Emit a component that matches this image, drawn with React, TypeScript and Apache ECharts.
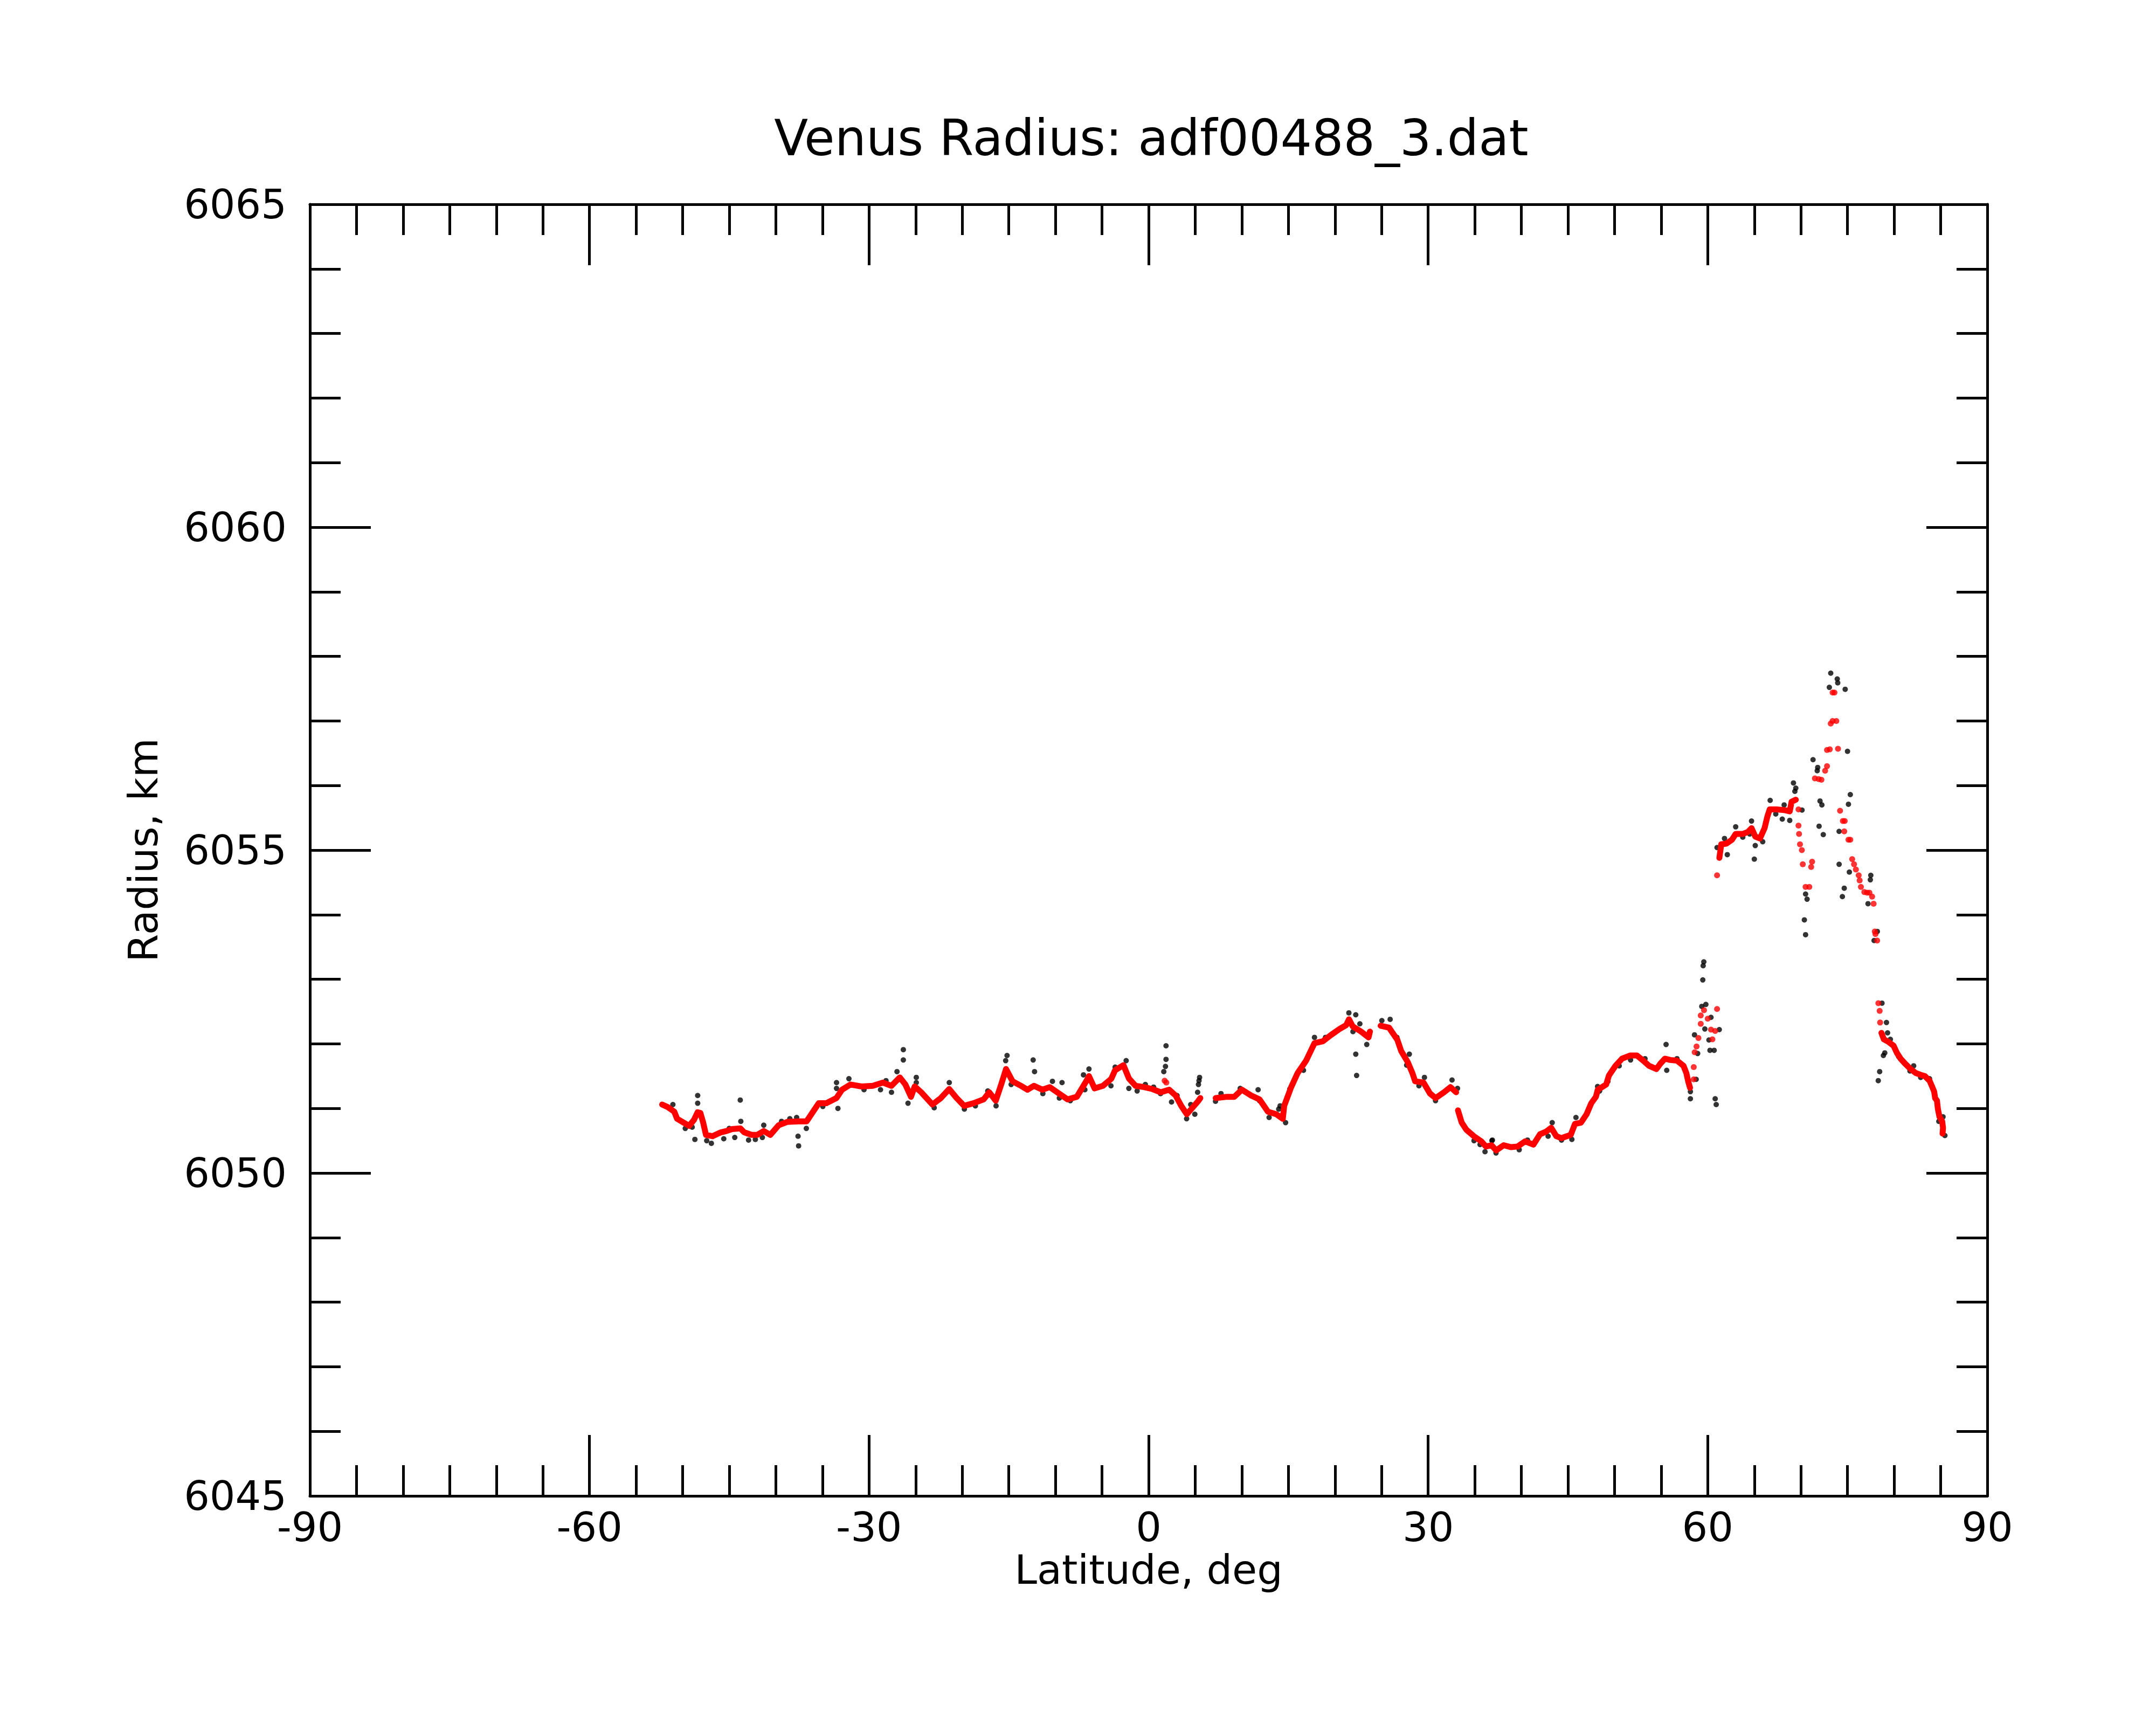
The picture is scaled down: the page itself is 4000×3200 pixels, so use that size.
import React, { useEffect, useRef } from "react";
import * as echarts from "echarts";

const titleText = "Venus Radius: adf00488_3.dat";
const xName = "Latitude, deg";
const yName = "Radius, km";
const xTicks = [-90, -60, -30, 0, 30, 60, 90];
const yTicks = [6045, 6050, 6055, 6060, 6065];

// raw measurements (black)
const blackPts: [number, number][] = [
  [-51.05, 6051.06], [-49.72, 6050.69], [-48.98, 6050.71], [-48.69, 6050.52], [-48.39, 6051.2],
  [-48.39, 6051.08], [-47.42, 6050.5], [-46.92, 6050.46], [-45.59, 6050.53], [-45.0, 6050.69],
  [-44.41, 6050.55], [-43.82, 6051.13], [-43.76, 6050.8], [-42.93, 6050.51], [-42.2, 6050.52],
  [-41.3, 6050.74], [-41.45, 6050.55], [-39.39, 6050.8], [-38.5, 6050.84], [-37.77, 6050.86],
  [-37.62, 6050.57], [-37.56, 6050.42], [-36.73, 6050.69], [-34.96, 6051.03], [-33.49, 6051.4],
  [-33.49, 6051.31], [-33.34, 6051.0], [-32.16, 6051.46], [-30.54, 6051.29], [-28.77, 6051.29],
  [-28.18, 6051.43], [-27.59, 6051.25], [-27.0, 6051.57], [-26.32, 6051.75], [-26.32, 6051.91],
  [-25.82, 6051.08], [-24.93, 6051.48], [-24.93, 6051.4], [-23.01, 6051.01], [-21.39, 6051.4],
  [-19.77, 6050.99], [-18.59, 6051.04], [-17.26, 6051.27], [-16.37, 6051.04], [-15.34, 6051.74],
  [-15.19, 6051.82], [-14.75, 6051.37], [-12.98, 6051.29], [-12.39, 6051.75], [-12.24, 6051.57],
  [-11.35, 6051.23], [-10.32, 6051.42], [-9.29, 6051.4], [-9.58, 6051.16], [-8.4, 6051.12],
  [-6.99, 6051.52], [-6.4, 6051.61], [-6.84, 6051.29], [-4.04, 6051.35], [-3.59, 6051.64],
  [-2.41, 6051.74], [-2.12, 6051.31], [-1.23, 6051.27], [-0.35, 6051.37], [0.54, 6051.33],
  [1.28, 6051.23], [1.63, 6051.57], [1.81, 6051.65], [1.87, 6051.76], [1.87, 6051.97],
  [2.46, 6051.1], [3.05, 6051.2], [4.08, 6050.84], [4.96, 6050.91], [4.52, 6051.06],
  [5.26, 6051.25], [5.35, 6051.37], [5.41, 6051.43], [5.47, 6051.48], [7.18, 6051.11],
  [7.77, 6051.23], [9.83, 6051.31], [11.75, 6051.29], [11.9, 6051.12], [12.93, 6050.86],
  [13.96, 6050.99], [14.11, 6051.04], [14.7, 6050.78], [15.15, 6051.3], [16.62, 6051.59],
  [17.8, 6052.1], [18.98, 6052.1], [21.49, 6052.48], [22.23, 6052.45], [22.23, 6051.84],
  [22.32, 6051.51], [21.93, 6052.19], [22.67, 6052.31], [23.41, 6051.99], [25.03, 6052.36],
  [25.92, 6052.38], [26.65, 6052.1], [27.69, 6051.67], [27.98, 6051.84], [29.6, 6051.48],
  [29.01, 6051.35], [30.79, 6051.12], [32.56, 6051.44], [33.15, 6051.31], [34.92, 6050.5],
  [35.57, 6050.44], [36.1, 6050.33], [36.84, 6050.5], [37.28, 6050.31], [36.89, 6050.51],
  [39.77, 6050.36], [40.66, 6050.51], [42.87, 6050.57], [43.31, 6050.78], [44.31, 6050.51],
  [45.42, 6050.52], [45.86, 6050.86], [48.18, 6051.34], [48.4, 6051.27], [49.29, 6051.42],
  [50.5, 6051.66], [51.72, 6051.75], [53.27, 6051.77], [55.53, 6051.99], [55.6, 6051.59],
  [56.7, 6051.77], [57.5, 6051.61], [58.14, 6051.26], [58.14, 6051.15], [58.76, 6051.45],
  [58.58, 6052.14], [58.92, 6051.85], [59.58, 6053.27], [59.51, 6053.21], [59.47, 6052.99],
  [59.36, 6052.58], [59.8, 6052.61], [60.35, 6052.41], [61.24, 6052.22], [59.69, 6052.23],
  [60.13, 6052.06], [60.24, 6051.9], [60.69, 6051.9], [60.8, 6051.15], [60.91, 6051.06],
  [61.0, 6055.04], [61.8, 6055.18], [62.1, 6054.93], [63.0, 6055.36], [63.76, 6055.2],
  [64.5, 6055.25], [64.7, 6055.45], [65.0, 6054.86], [65.1, 6055.07], [65.9, 6055.13],
  [66.7, 6055.77], [67.3, 6055.56], [68.0, 6055.48], [68.2, 6055.7], [68.8, 6055.46],
  [69.2, 6056.04], [69.45, 6055.96], [69.35, 6055.91], [70.12, 6055.62], [70.5, 6054.32],
  [70.66, 6054.24], [71.3, 6056.4], [71.8, 6056.28], [71.75, 6056.23], [72.05, 6055.76],
  [72.25, 6055.7], [71.95, 6055.37], [72.4, 6055.24], [73.05, 6057.52], [73.2, 6057.74],
  [73.9, 6057.65], [73.95, 6057.59], [74.75, 6057.49], [75.0, 6056.53], [75.3, 6055.86],
  [75.1, 6055.71], [74.1, 6055.29], [74.1, 6054.78], [74.65, 6054.41], [74.45, 6054.28],
  [75.2, 6054.66], [77.5, 6054.61], [77.45, 6054.54], [77.2, 6054.17], [70.37, 6053.92],
  [70.5, 6053.69], [78.2, 6053.74], [77.85, 6053.6], [78.7, 6052.63], [79.18, 6052.33],
  [79.3, 6052.17], [79.0, 6051.86], [78.85, 6051.82], [78.45, 6051.57], [78.3, 6051.43],
  [79.6, 6052.07], [80.5, 6051.8], [81.7, 6051.58], [82.1, 6051.66], [82.85, 6051.48],
  [83.8, 6051.46], [85.25, 6050.87], [84.8, 6050.8], [85.45, 6050.58],
];

// smoothed radius (red), continuous stretches
const redSegA: [number, number][] = [
  [-52.2, 6051.06], [-51.6, 6051.02], [-50.9, 6050.95], [-50.6, 6050.84], [-49.9, 6050.78],
  [-49.3, 6050.73], [-48.8, 6050.82], [-48.4, 6050.94], [-48.1, 6050.93], [-47.8, 6050.78],
  [-47.5, 6050.59], [-46.8, 6050.57], [-45.9, 6050.63], [-45.3, 6050.65], [-44.7, 6050.68],
  [-43.8, 6050.69], [-43.4, 6050.63], [-42.6, 6050.59], [-42.0, 6050.59], [-41.3, 6050.65],
  [-40.6, 6050.59], [-39.7, 6050.74], [-38.8, 6050.79], [-37.6, 6050.8], [-36.7, 6050.8],
  [-36.1, 6050.93], [-35.4, 6051.08], [-34.6, 6051.08], [-33.5, 6051.16], [-32.9, 6051.29],
  [-32.0, 6051.37], [-30.8, 6051.34], [-29.6, 6051.35], [-28.5, 6051.4], [-27.6, 6051.35],
  [-26.7, 6051.48], [-26.1, 6051.37], [-25.5, 6051.18], [-25.1, 6051.34], [-24.4, 6051.25],
  [-23.2, 6051.06], [-22.3, 6051.16], [-21.4, 6051.3], [-20.6, 6051.16], [-19.8, 6051.04],
  [-18.8, 6051.08], [-17.7, 6051.14], [-17.1, 6051.25], [-16.4, 6051.12], [-15.8, 6051.38],
  [-15.3, 6051.61], [-14.6, 6051.42], [-13.7, 6051.35], [-13.0, 6051.29], [-12.3, 6051.35],
  [-11.4, 6051.29], [-10.6, 6051.33], [-9.6, 6051.23], [-8.7, 6051.14], [-7.7, 6051.18],
  [-6.7, 6051.42], [-6.4, 6051.5], [-5.8, 6051.31], [-4.9, 6051.35], [-4.0, 6051.46],
  [-3.6, 6051.59], [-2.7, 6051.67], [-2.1, 6051.46], [-1.4, 6051.35], [-0.5, 6051.33],
  [0.4, 6051.3], [1.3, 6051.25], [2.2, 6051.29], [2.9, 6051.2], [3.5, 6051.04],
  [4.1, 6050.91], [4.7, 6051.01], [5.3, 6051.11], [5.55, 6051.16],
];
const redSegB: [number, number][] = [
  [7.2, 6051.16], [8.4, 6051.18], [9.2, 6051.18], [10.0, 6051.29], [11.0, 6051.2],
  [11.9, 6051.14], [12.8, 6050.95], [13.7, 6050.91], [14.4, 6050.84], [14.55, 6051.04],
  [15.3, 6051.33], [16.0, 6051.55], [16.9, 6051.74], [17.8, 6052.01], [18.7, 6052.04],
  [19.6, 6052.14], [20.5, 6052.23], [21.2, 6052.29], [21.5, 6052.38], [21.9, 6052.27],
  [22.8, 6052.19], [23.6, 6052.1], [23.75, 6052.19],
];
const redSegC: [number, number][] = [
  [24.9, 6052.28], [25.8, 6052.25], [26.7, 6052.06], [27.1, 6051.89], [27.8, 6051.72],
  [28.3, 6051.55], [28.6, 6051.42], [29.5, 6051.4], [30.2, 6051.23], [30.8, 6051.16],
  [31.7, 6051.25], [32.4, 6051.33], [33.0, 6051.25],
];
const redSegD: [number, number][] = [
  [33.2, 6050.97], [33.6, 6050.78], [34.1, 6050.67], [34.9, 6050.57], [35.7, 6050.49],
  [36.2, 6050.41], [36.8, 6050.43], [37.3, 6050.35], [38.1, 6050.43], [38.9, 6050.4],
  [39.6, 6050.41], [40.4, 6050.49], [41.3, 6050.44], [42.0, 6050.6], [42.65, 6050.64],
  [43.2, 6050.7], [43.75, 6050.57], [44.3, 6050.54], [45.3, 6050.59], [45.75, 6050.76],
  [46.4, 6050.78], [47.0, 6050.91], [47.5, 6051.08], [48.0, 6051.18], [48.2, 6051.29],
  [49.1, 6051.37], [49.4, 6051.51], [50.1, 6051.66], [50.8, 6051.77], [51.7, 6051.82],
  [52.4, 6051.82], [53.0, 6051.75], [53.7, 6051.66], [54.5, 6051.61], [54.9, 6051.69],
  [55.4, 6051.77], [56.0, 6051.75], [56.7, 6051.74], [57.4, 6051.66], [57.7, 6051.55],
  [57.9, 6051.42], [58.1, 6051.32],
];
const redSegF: [number, number][] = [
  [61.25, 6054.88], [61.45, 6055.09], [62.0, 6055.1], [62.6, 6055.16], [63.0, 6055.25],
  [63.76, 6055.25], [64.3, 6055.28], [64.7, 6055.34], [65.1, 6055.21], [65.6, 6055.18],
  [66.1, 6055.34], [66.4, 6055.52], [66.65, 6055.63], [67.4, 6055.63], [68.2, 6055.62],
  [68.8, 6055.6], [69.0, 6055.75], [69.45, 6055.78],
];
const redSegE: [number, number][] = [
  [78.64, 6052.17], [78.9, 6052.07], [79.4, 6052.03], [79.95, 6051.97], [80.3, 6051.86],
  [80.7, 6051.77], [81.2, 6051.69], [81.7, 6051.62], [82.3, 6051.55], [82.85, 6051.52],
  [83.3, 6051.5], [83.8, 6051.43], [84.1, 6051.33], [84.3, 6051.26], [84.4, 6051.16],
  [84.6, 6051.12], [84.7, 6050.99], [84.87, 6050.87], [85.16, 6050.8], [85.25, 6050.7],
  [85.2, 6050.61],
];
// smoothed radius (red), isolated points
const redDots: [number, number][] = [
  [1.72, 6051.43], [1.9, 6051.4],
  [58.5, 6051.45], [58.5, 6051.64], [58.6, 6051.87], [58.8, 6051.96], [59.0, 6052.09],
  [59.25, 6052.31], [59.25, 6052.44], [59.6, 6052.52], [60.0, 6052.39], [60.35, 6052.22],
  [60.8, 6052.2], [60.5, 6052.07], [61.0, 6052.54], [61.0, 6054.61],
  [69.74, 6055.63], [69.74, 6055.38], [69.8, 6055.25], [69.9, 6055.09], [70.1, 6055.0],
  [70.2, 6054.78], [70.5, 6054.43], [70.9, 6054.43], [71.1, 6054.74], [71.2, 6054.82],
  [71.5, 6056.11], [71.9, 6056.1], [72.2, 6056.09], [72.6, 6056.23], [72.8, 6056.3],
  [72.8, 6056.55], [73.1, 6056.56], [73.98, 6056.57], [73.2, 6056.96], [73.4, 6057.0],
  [73.8, 6057.0], [73.4, 6057.44], [73.6, 6057.44], [74.2, 6055.61], [74.5, 6055.45],
  [74.7, 6055.45], [74.65, 6055.29], [75.1, 6055.16], [75.3, 6055.16], [75.5, 6054.86],
  [75.7, 6054.78], [75.9, 6054.7], [76.2, 6054.61], [76.3, 6054.53], [76.44, 6054.43],
  [76.8, 6054.35], [77.1, 6054.34], [77.35, 6054.34], [77.64, 6054.28], [77.8, 6054.17],
  [77.93, 6053.74], [78.0, 6053.7], [78.18, 6053.6], [78.31, 6052.63], [78.45, 6052.51],
  [78.5, 6052.33],
];

const FONT = "DejaVu Sans";
const plain = (v: number) => String(v);

function axisCommon(showLabels: boolean) {
  return {
    axisLine: { show: true, onZero: false, lineStyle: { color: "#000", width: 5 } },
    axisTick: { show: true, inside: true, length: 113, lineStyle: { color: "#000", width: 5 } },
    minorTick: { show: true, length: 57, lineStyle: { color: "#000", width: 5 } },
    splitLine: { show: false },
    minorSplitLine: { show: false },
    axisLabel: {
      show: showLabels,
      color: "#000",
      fontSize: 75,
      fontFamily: FONT,
      formatter: plain,
    },
  };
}

export default function App() {
  const ref = useRef<HTMLDivElement>(null);
  useEffect(() => {
    if (!ref.current) return;
    const chart = echarts.init(ref.current, undefined, { renderer: "svg" });
    const redLine = (data: [number, number][]) => ({
      type: "line",
      data,
      xAxisIndex: 0,
      yAxisIndex: 0,
      showSymbol: false,
      symbol: "none",
      lineStyle: { color: "#ff0000", width: 11, cap: "round", join: "round" },
      z: 3,
    });
    chart.setOption({
      animation: false,
      backgroundColor: "#fff",
      title: {
        text: titleText,
        left: 2131,
        top: 205,
        textAlign: "center",
        textStyle: { fontSize: 92, fontWeight: "normal", color: "#000", fontFamily: FONT },
      },
      grid: { left: 575, right: 313, top: 379, bottom: 425, containLabel: false },
      xAxis: [
        {
          type: "value",
          position: "bottom",
          min: -90,
          max: 90,
          interval: 30,
          ...axisCommon(true),
          minorTick: { show: true, splitNumber: 6, length: 57, lineStyle: { color: "#000", width: 5 } },
          axisLabel: {
            show: true, color: "#000", fontSize: 75, fontFamily: FONT, margin: 20,
            customValues: xTicks, formatter: plain,
          },
          name: xName,
          nameLocation: "middle",
          nameGap: 90,
          nameTextStyle: { fontSize: 75, color: "#000", fontFamily: FONT },
        },
        {
          type: "value",
          position: "top",
          min: -90,
          max: 90,
          interval: 30,
          ...axisCommon(false),
          minorTick: { show: true, splitNumber: 6, length: 57, lineStyle: { color: "#000", width: 5 } },
        },
      ],
      yAxis: [
        {
          type: "value",
          position: "left",
          min: 6045,
          max: 6065,
          interval: 5,
          ...axisCommon(true),
          minorTick: { show: true, splitNumber: 5, length: 57, lineStyle: { color: "#000", width: 5 } },
          axisLabel: {
            show: true, color: "#000", fontSize: 75, fontFamily: FONT, margin: 43,
            customValues: yTicks, formatter: plain,
          },
          name: yName,
          nameLocation: "middle",
          nameRotate: 90,
          nameGap: 272,
          nameTextStyle: { fontSize: 75, color: "#000", fontFamily: FONT },
        },
        {
          type: "value",
          position: "right",
          min: 6045,
          max: 6065,
          interval: 5,
          ...axisCommon(false),
          minorTick: { show: true, splitNumber: 5, length: 57, lineStyle: { color: "#000", width: 5 } },
        },
      ],
      series: [
        {
          type: "scatter",
          data: blackPts,
          symbol: "circle",
          symbolSize: 10,
          itemStyle: { color: "#000" },
          z: 2,
        },
        redLine(redSegA),
        redLine(redSegB),
        redLine(redSegC),
        redLine(redSegD),
        redLine(redSegF),
        redLine(redSegE),
        {
          type: "scatter",
          data: redDots,
          symbol: "circle",
          symbolSize: 11,
          itemStyle: { color: "#ff0000" },
          z: 4,
        },
      ],
    });
    return () => chart.dispose();
  }, []);
  return (
    <div
      ref={ref}
      style={{ position: "absolute", left: 0, top: 0, width: 4000, height: 3200, background: "#fff" }}
    />
  );
}
